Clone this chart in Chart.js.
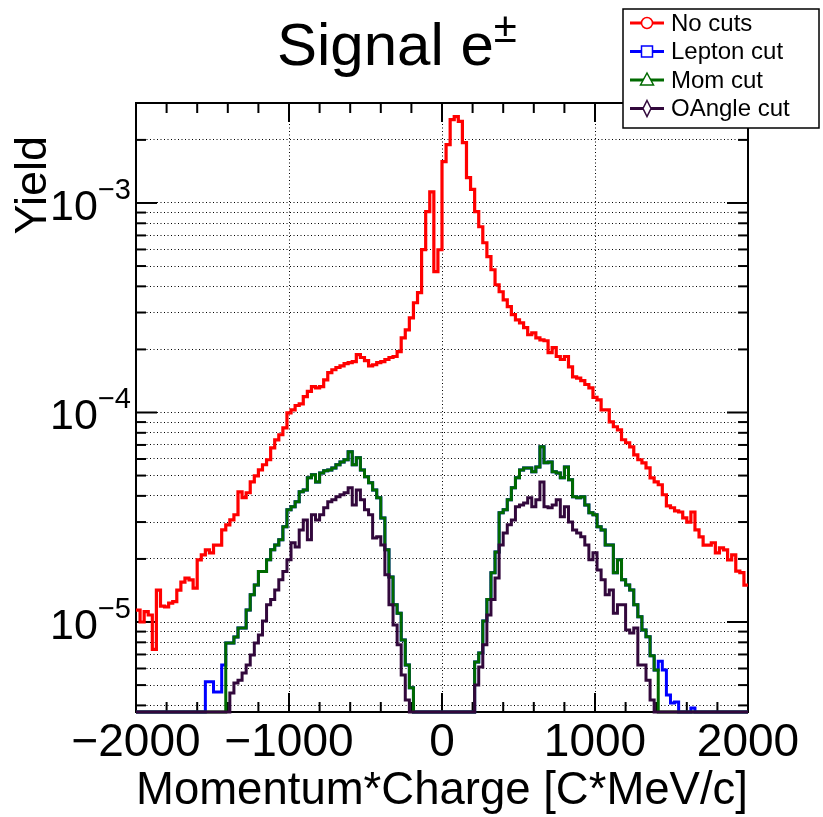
<!DOCTYPE html>
<html>
<head>
<meta charset="utf-8">
<title>Signal e±</title>
<script src="https://cdn.jsdelivr.net/npm/chart.js@4.4.1/dist/chart.umd.min.js"></script>
<style>
  html, body { margin: 0; padding: 0; background: #fff; }
  #wrap { width: 823px; height: 817px; }
</style>
</head>
<body>
<div id="wrap"><canvas id="chart" width="823" height="817"></canvas></div>
<script>
// histogram binning
const xRange = [-2000, 2000];
const nBins = 150;
const xTicks = [-2000, -1000, 0, 1000, 2000];
const xMinorStep = 200;
const yRange = [3.72e-6, 3.0e-3];
const yDecades = [1e-5, 1e-4, 1e-3];
const yGridTicks = [
    4e-6, 5e-6, 6e-6, 7e-6, 8e-6, 9e-6,
    1e-5, 2e-5, 3e-5, 4e-5, 5e-5, 6e-5, 7e-5, 8e-5, 9e-5,
    1e-4, 2e-4, 3e-4, 4e-4, 5e-4, 6e-4, 7e-4, 8e-4, 9e-4,
    1e-3, 2e-3
];
const seriesNames = ['No cuts', 'Lepton cut', 'Mom cut', 'OAngle cut'];

// bin contents, 150 bins from -2000 to 2000
const noCuts = [
    1.14e-5, 1.0e-5, 1.12e-5, 1.08e-5, 7.4e-6, 1.42e-5, 1.19e-5, 1.18e-5, 1.23e-5, 1.25e-5,
    1.42e-5, 1.55e-5, 1.62e-5, 1.59e-5, 1.45e-5, 1.98e-5, 2.09e-5, 2.21e-5, 2.14e-5, 2.33e-5,
    2.33e-5, 2.75e-5, 2.91e-5, 3.07e-5, 3.25e-5, 4.18e-5, 3.92e-5, 4.14e-5, 4.66e-5, 4.98e-5,
    5.32e-5, 5.63e-5, 5.95e-5, 6.78e-5, 7.4e-5, 7.83e-5, 8.45e-5, 9.96e-5, 1.03e-4, 1.08e-4,
    1.10e-4, 1.19e-4, 1.26e-4, 1.33e-4, 1.31e-4, 1.33e-4, 1.43e-4, 1.55e-4, 1.60e-4, 1.64e-4,
    1.67e-4, 1.71e-4, 1.73e-4, 1.75e-4, 1.89e-4, 1.83e-4, 1.77e-4, 1.67e-4, 1.69e-4, 1.73e-4,
    1.75e-4, 1.79e-4, 1.83e-4, 1.85e-4, 1.95e-4, 2.27e-4, 2.48e-4, 2.83e-4, 3.34e-4, 3.73e-4,
    5.99e-4, 9.09e-4, 1.13e-3, 4.70e-4, 5.98e-4, 1.575e-3, 1.90e-3, 2.50e-3, 2.58e-3, 2.45e-3,
    1.94e-3, 1.32e-3, 1.16e-3, 9.09e-4, 7.70e-4, 6.46e-4, 5.54e-4, 4.80e-4, 4.07e-4, 3.77e-4,
    3.45e-4, 3.20e-4, 2.93e-4, 2.77e-4, 2.68e-4, 2.54e-4, 2.35e-4, 2.40e-4, 2.27e-4, 2.22e-4,
    2.20e-4, 1.93e-4, 2.04e-4, 1.85e-4, 1.79e-4, 1.85e-4, 1.65e-4, 1.48e-4, 1.46e-4, 1.42e-4,
    1.36e-4, 1.31e-4, 1.18e-4, 1.15e-4, 1.03e-4, 1.03e-4, 9.03e-5, 8.55e-5, 8.26e-5, 7.41e-5,
    7.17e-5, 6.86e-5, 6.28e-5, 5.95e-5, 5.75e-5, 5.44e-5, 4.88e-5, 4.66e-5, 4.52e-5, 4.05e-5,
    3.58e-5, 3.51e-5, 3.39e-5, 3.35e-5, 3.14e-5, 3.00e-5, 3.35e-5, 2.75e-5, 2.55e-5, 2.33e-5,
    2.33e-5, 2.39e-5, 2.14e-5, 2.26e-5, 2.21e-5, 1.98e-5, 2.09e-5, 1.75e-5, 1.72e-5, 1.50e-5
];
const leptonCut = [
    0, 0, 0, 0, 0, 0, 0, 0, 0, 0,
    0, 0, 0, 0, 0, 0, 0, 5.18e-6, 5.18e-6, 4.64e-6,
    4.64e-6, 6.24e-6, 7.95e-6, 7.95e-6, 8.49e-6, 9.37e-6, 9.37e-6, 1.14e-5, 1.35e-5, 1.50e-5,
    1.74e-5, 1.74e-5, 1.98e-5, 2.21e-5, 2.33e-5, 2.47e-5, 2.85e-5, 3.43e-5, 3.55e-5, 3.75e-5,
    4.18e-5, 4.27e-5, 4.88e-5, 5.04e-5, 4.66e-5, 5.15e-5, 5.27e-5, 5.32e-5, 5.44e-5, 5.63e-5,
    5.81e-5, 5.95e-5, 6.49e-5, 5.63e-5, 6.08e-5, 5.32e-5, 4.93e-5, 4.62e-5, 4.27e-5, 3.92e-5,
    3.14e-5, 2.21e-5, 1.64e-5, 1.21e-5, 1.10e-5, 8.21e-6, 6.24e-6, 4.85e-6, 0, 0,
    0, 0, 0, 0, 0, 0, 0, 0, 0, 0,
    0, 0, 0, 6.45e-6, 7.12e-6, 1.01e-5, 1.28e-5, 1.72e-5, 2.16e-5, 3.32e-5,
    3.43e-5, 3.83e-5, 4.37e-5, 4.88e-5, 5.32e-5, 5.44e-5, 5.44e-5, 5.21e-5, 5.50e-5, 6.86e-5,
    5.75e-5, 5.81e-5, 5.21e-5, 5.15e-5, 4.88e-5, 5.50e-5, 4.77e-5, 3.96e-5, 3.92e-5, 3.96e-5,
    3.62e-5, 3.32e-5, 3.25e-5, 2.85e-5, 2.75e-5, 2.33e-5, 2.33e-5, 1.72e-5, 1.98e-5, 1.59e-5,
    1.50e-5, 1.42e-5, 1.21e-5, 1.06e-5, 9.17e-6, 8.50e-6, 6.90e-6, 5.90e-6, 6.50e-6, 5.91e-6,
    4.48e-6, 4.11e-6, 4.15e-6, 0, 0, 0, 3.89e-6, 0, 0, 0,
    0, 0, 0, 0, 0, 0, 0, 0, 0, 0
];
const momCut = [
    0, 0, 0, 0, 0, 0, 0, 0, 0, 0,
    0, 0, 0, 0, 0, 0, 0, 0, 0, 0,
    0, 0, 7.95e-6, 7.95e-6, 8.49e-6, 9.37e-6, 9.37e-6, 1.14e-5, 1.35e-5, 1.50e-5,
    1.74e-5, 1.74e-5, 1.98e-5, 2.21e-5, 2.33e-5, 2.47e-5, 2.85e-5, 3.43e-5, 3.55e-5, 3.75e-5,
    4.18e-5, 4.27e-5, 4.88e-5, 5.04e-5, 4.66e-5, 5.15e-5, 5.27e-5, 5.32e-5, 5.44e-5, 5.63e-5,
    5.81e-5, 5.95e-5, 6.49e-5, 5.63e-5, 6.08e-5, 5.32e-5, 4.93e-5, 4.62e-5, 4.27e-5, 3.92e-5,
    3.14e-5, 2.21e-5, 1.64e-5, 1.21e-5, 1.10e-5, 8.21e-6, 6.24e-6, 4.85e-6, 0, 0,
    0, 0, 0, 0, 0, 0, 0, 0, 0, 0,
    0, 0, 0, 6.45e-6, 7.12e-6, 1.01e-5, 1.28e-5, 1.72e-5, 2.16e-5, 3.32e-5,
    3.43e-5, 3.83e-5, 4.37e-5, 4.88e-5, 5.32e-5, 5.44e-5, 5.44e-5, 5.21e-5, 5.50e-5, 6.86e-5,
    5.75e-5, 5.81e-5, 5.21e-5, 5.15e-5, 4.88e-5, 5.50e-5, 4.77e-5, 3.96e-5, 3.92e-5, 3.96e-5,
    3.62e-5, 3.32e-5, 3.25e-5, 2.85e-5, 2.75e-5, 2.33e-5, 2.33e-5, 1.72e-5, 1.98e-5, 1.59e-5,
    1.50e-5, 1.42e-5, 1.21e-5, 1.06e-5, 9.17e-6, 8.50e-6, 6.90e-6, 5.90e-6, 0, 0,
    0, 0, 0, 0, 0, 0, 0, 0, 0, 0,
    0, 0, 0, 0, 0, 0, 0, 0, 0, 0
];
const oAngleCut = [
    0, 0, 0, 0, 0, 0, 0, 0, 0, 0,
    0, 0, 0, 0, 0, 0, 0, 0, 0, 0,
    0, 0, 0, 4.59e-6, 5.12e-6, 5.28e-6, 5.71e-6, 6.24e-6, 6.96e-6, 7.95e-6,
    8.68e-6, 1.01e-5, 1.21e-5, 1.28e-5, 1.42e-5, 1.59e-5, 1.74e-5, 1.98e-5, 2.39e-5, 2.28e-5,
    2.75e-5, 3.07e-5, 2.47e-5, 3.25e-5, 3.07e-5, 3.25e-5, 3.51e-5, 3.75e-5, 3.83e-5, 3.96e-5,
    4.05e-5, 4.14e-5, 4.37e-5, 3.62e-5, 4.27e-5, 3.83e-5, 3.43e-5, 3.25e-5, 2.52e-5, 2.55e-5,
    2.33e-5, 1.68e-5, 1.21e-5, 9.69e-6, 7.78e-6, 5.59e-6, 4.25e-6, 0, 0, 0,
    0, 0, 0, 0, 0, 0, 0, 0, 0, 0,
    0, 0, 0, 5.01e-6, 6.10e-6, 7.78e-6, 1.08e-5, 1.28e-5, 1.62e-5, 2.33e-5,
    2.66e-5, 2.91e-5, 3.07e-5, 3.55e-5, 3.62e-5, 3.70e-5, 3.92e-5, 3.55e-5, 3.83e-5, 4.66e-5,
    3.55e-5, 3.51e-5, 3.62e-5, 3.83e-5, 3.18e-5, 3.55e-5, 3.00e-5, 2.75e-5, 2.66e-5, 2.55e-5,
    2.33e-5, 1.98e-5, 2.14e-5, 1.77e-5, 1.59e-5, 1.35e-5, 1.42e-5, 1.10e-5, 1.21e-5, 1.21e-5,
    9.17e-6, 8.87e-6, 9.37e-6, 6.24e-6, 6.24e-6, 5.28e-6, 4.25e-6, 0, 0, 0,
    0, 0, 0, 0, 0, 0, 0, 0, 0, 0,
    0, 0, 0, 0, 0, 0, 0, 0, 0, 0
];

const colors = ['#ff0000', '#0000ff', '#006a00', '#32083c'];
const FONT = '"Liberation Sans", Arial, Helvetica, sans-serif';

// turn bin contents into step points at the bin edges; empty bins sit on the frame bottom
const binWidth = (xRange[1] - xRange[0]) / nBins;
function histPoints(values) {
    const pts = values.map((v, i) => ({ x: xRange[0] + i * binWidth, y: v > 0 ? v : yRange[0] }));
    pts.push({ x: xRange[1], y: pts[pts.length - 1].y });
    return pts;
}

const allSeries = [noCuts, leptonCut, momCut, oAngleCut];
const datasets = allSeries.map((vals, i) => ({
    label: seriesNames[i],
    data: histPoints(vals),
    borderColor: colors[i],
    borderWidth: i === 0 ? 3.2 : 3,
    pointRadius: 0,
    stepped: 'before',
    fill: false,
    clip: { left: 0, top: 0, right: 0, bottom: 2 },
    order: 4 - i
}));

function line(ctx, x1, y1, x2, y2) {
    ctx.beginPath();
    ctx.moveTo(x1, y1);
    ctx.lineTo(x2, y2);
    ctx.stroke();
}

function drawMarker(ctx, kind, x, y, color) {
    ctx.strokeStyle = color;
    ctx.fillStyle = '#fff';
    ctx.lineWidth = 1.5;
    ctx.beginPath();
    if (kind === 'circle') {
        ctx.arc(x, y, 5.5, 0, Math.PI * 2);
    } else if (kind === 'square') {
        ctx.rect(x - 5.5, y - 5.5, 11, 11);
    } else if (kind === 'triangle') {
        ctx.moveTo(x, y - 7);
        ctx.lineTo(x + 6.5, y + 5);
        ctx.lineTo(x - 6.5, y + 5);
        ctx.closePath();
    } else {
        ctx.moveTo(x, y - 8);
        ctx.lineTo(x + 4, y);
        ctx.lineTo(x, y + 8);
        ctx.lineTo(x - 4, y);
        ctx.closePath();
    }
    ctx.fill();
    ctx.stroke();
}

// ROOT-like frame with inner ticks (under the histograms), then legend and titles on top
const rootStyle = {
    id: 'rootStyle',
    beforeDatasetsDraw(chart) {
        const ctx = chart.ctx;
        const a = chart.chartArea;
        const xs = chart.scales.x;
        const ys = chart.scales.y;
        ctx.save();
        ctx.strokeStyle = '#000';
        ctx.lineWidth = 2;
        for (let v = xRange[0]; v <= xRange[1]; v += xMinorStep) {
            const px = xs.getPixelForValue(v);
            const len = v % 1000 === 0 ? 19 : 10;
            line(ctx, px, a.bottom, px, a.bottom - len);
            line(ctx, px, a.top, px, a.top + len);
        }
        yGridTicks.forEach(v => {
            const py = ys.getPixelForValue(v);
            const len = yDecades.includes(v) ? 21 : 10;
            line(ctx, a.left, py, a.left + len, py);
            line(ctx, a.right, py, a.right - len, py);
        });
        ctx.strokeRect(a.left, a.top, a.right - a.left, a.bottom - a.top);
        ctx.restore();
    },
    afterDatasetsDraw(chart) {
        const ctx = chart.ctx;
        const ys = chart.scales.y;
        ctx.save();

        // y decade labels 10^n
        ctx.fillStyle = '#000';
        ctx.textBaseline = 'alphabetic';
        yDecades.forEach(v => {
            const py = ys.getPixelForValue(v);
            const expo = '\u2212' + Math.round(-Math.log10(v));
            ctx.font = '29px ' + FONT;
            ctx.textAlign = 'right';
            const ew = ctx.measureText(expo).width;
            ctx.fillText(expo, 131, py - 4);
            ctx.font = '43px ' + FONT;
            ctx.fillText('10', 131 - ew, py + 17);
        });

        // y axis title
        ctx.save();
        ctx.translate(46, 136);
        ctx.rotate(-Math.PI / 2);
        ctx.font = '45px ' + FONT;
        ctx.textAlign = 'right';
        ctx.fillText('Yield', 0, 0);
        ctx.restore();

        // chart title
        ctx.font = '60px ' + FONT;
        ctx.textAlign = 'left';
        ctx.fillText('Signal e', 277, 65);
        const tw = ctx.measureText('Signal e').width;
        ctx.font = '42px ' + FONT;
        ctx.fillText('\u00b1', 277 + tw, 42);

        // legend
        const lx = 623, ly = 9, lw = 196, lh = 119;
        ctx.fillStyle = '#fff';
        ctx.fillRect(lx, ly, lw, lh);
        ctx.strokeStyle = '#000';
        ctx.lineWidth = 1.5;
        ctx.strokeRect(lx, ly, lw, lh);
        const markers = ['circle', 'square', 'triangle', 'diamond'];
        seriesNames.forEach((name, i) => {
            const cy = ly + 14 + i * 28.5;
            ctx.strokeStyle = colors[i];
            ctx.lineWidth = 3;
            line(ctx, 630, cy, 664, cy);
            drawMarker(ctx, markers[i], 647, cy, colors[i]);
            ctx.fillStyle = '#000';
            ctx.font = '24px ' + FONT;
            ctx.textAlign = 'left';
            ctx.textBaseline = 'middle';
            ctx.fillText(name, 671, cy + 1);
        });
        ctx.restore();
    }
};

new Chart(document.getElementById('chart'), {
    type: 'line',
    data: { datasets: datasets },
    options: {
        responsive: false,
        animation: false,
        events: [],
        layout: { padding: { top: 103, right: 75, left: 0, bottom: 0 } },
        plugins: {
            legend: { display: false },
            tooltip: { enabled: false }
        },
        scales: {
            x: {
                type: 'linear',
                min: xRange[0],
                max: xRange[1],
                afterBuildTicks: s => { s.ticks = xTicks.map(v => ({ value: v })); },
                afterFit: s => { s.height = 105; },
                grid: { color: '#000', lineWidth: 1, drawTicks: false },
                border: { display: false, dash: [1, 2.5] },
                ticks: {
                    color: '#000',
                    font: { family: FONT, size: 46 },
                    padding: 4,
                    maxRotation: 0,
                    autoSkip: false,
                    callback: v => (v < 0 ? '\u2212' + (-v) : String(v))
                },
                title: {
                    display: true,
                    text: 'Momentum*Charge [C*MeV/c]',
                    align: 'end',
                    color: '#000',
                    font: { family: FONT, size: 46, lineHeight: 1.1 },
                    padding: 0
                }
            },
            y: {
                type: 'logarithmic',
                min: yRange[0],
                max: yRange[1],
                afterBuildTicks: s => { s.ticks = yGridTicks.map(v => ({ value: v })); },
                afterFit: s => { s.width = 136; },
                grid: { color: '#000', lineWidth: 1, drawTicks: false },
                border: { display: false, dash: [1, 2.5] },
                ticks: { display: false }
            }
        }
    },
    plugins: [rootStyle]
});
</script>
</body>
</html>
